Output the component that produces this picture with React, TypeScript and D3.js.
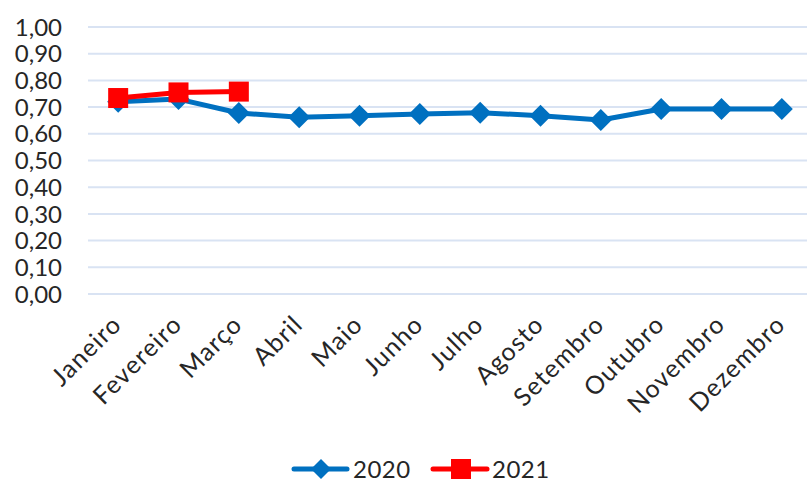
import React from "react";
import * as d3 from "d3";

const months = ["Janeiro","Fevereiro","Março","Abril","Maio","Junho","Julho","Agosto","Setembro","Outubro","Novembro","Dezembro"];
const values2020 = [0.72, 0.73, 0.678, 0.662, 0.668, 0.674, 0.679, 0.668, 0.652, 0.693, 0.693, 0.693];
const values2021 = [0.734, 0.755, 0.758];
const yTicks = [0, 0.1, 0.2, 0.3, 0.4, 0.5, 0.6, 0.7, 0.8, 0.9, 1.0];

const W = 807, H = 483;
const FONT = "'Century Gothic', Lato, 'Open Sans', sans-serif";
const BLUE = "#0070C0";
const RED = "#FF0000";

export default function App() {
  const x = d3.scaleBand<string>().domain(months).range([88, 812]);
  const y = d3.scaleLinear().domain([0, 1]).range([294, 27]);
  const cx = (m: string) => (x(m) as number) + x.bandwidth() / 2;
  const line = d3.line<number>().x((_, i) => cx(months[i])).y(d => y(d));
  const fmt = (v: number) => v.toFixed(2).replace(".", ",");
  const diamond = (px: number, py: number, r = 11) =>
    `M${px},${py - r}L${px + r},${py}L${px},${py + r}L${px - r},${py}Z`;
  const LY = 469;

  return (
    <svg width={W} height={H} style={{ position: "absolute", left: 0, top: 0, background: "#fff" }} fontFamily={FONT}>
      <rect width={W} height={H} fill="#fff" />
      {yTicks.map(t => (
        <g key={t}>
          <line x1={88} x2={W} y1={y(t)} y2={y(t)} stroke="#D9E3F3" strokeWidth={2} />
          <text x={62} y={y(t)} dy="0.36em" textAnchor="end" fontSize={24} fill="#262626">{fmt(t)}</text>
        </g>
      ))}
      {months.map(m => (
        <text key={m} transform={`translate(${cx(m) + 5},${326}) rotate(-45)`} textAnchor="end" fontSize={25} letterSpacing={1.2} fill="#262626">{m}</text>
      ))}
      <path d={line(values2020) as string} fill="none" stroke={BLUE} strokeWidth={5} strokeLinejoin="round" />
      {values2020.map((v, i) => (
        <path key={i} d={diamond(cx(months[i]), y(v))} fill={BLUE} />
      ))}
      <path d={line(values2021) as string} fill="none" stroke={RED} strokeWidth={5} strokeLinejoin="round" />
      {values2021.map((v, i) => (
        <rect key={i} x={cx(months[i]) - 10} y={y(v) - 10} width={20} height={20} fill={RED} />
      ))}
      <g>
        <line x1={294} x2={347} y1={LY} y2={LY} stroke={BLUE} strokeWidth={5} strokeLinecap="round" />
        <path d={diamond(321, LY, 10)} fill={BLUE} />
        <text x={353} y={LY} dy="0.36em" fontSize={24} letterSpacing={0.5} fill="#262626">2020</text>
        <line x1={433} x2={487} y1={LY} y2={LY} stroke={RED} strokeWidth={5} strokeLinecap="round" />
        <rect x={451} y={LY - 10} width={20} height={20} fill={RED} />
        <text x={492} y={LY} dy="0.36em" fontSize={24} letterSpacing={0.5} fill="#262626">2021</text>
      </g>
    </svg>
  );
}
